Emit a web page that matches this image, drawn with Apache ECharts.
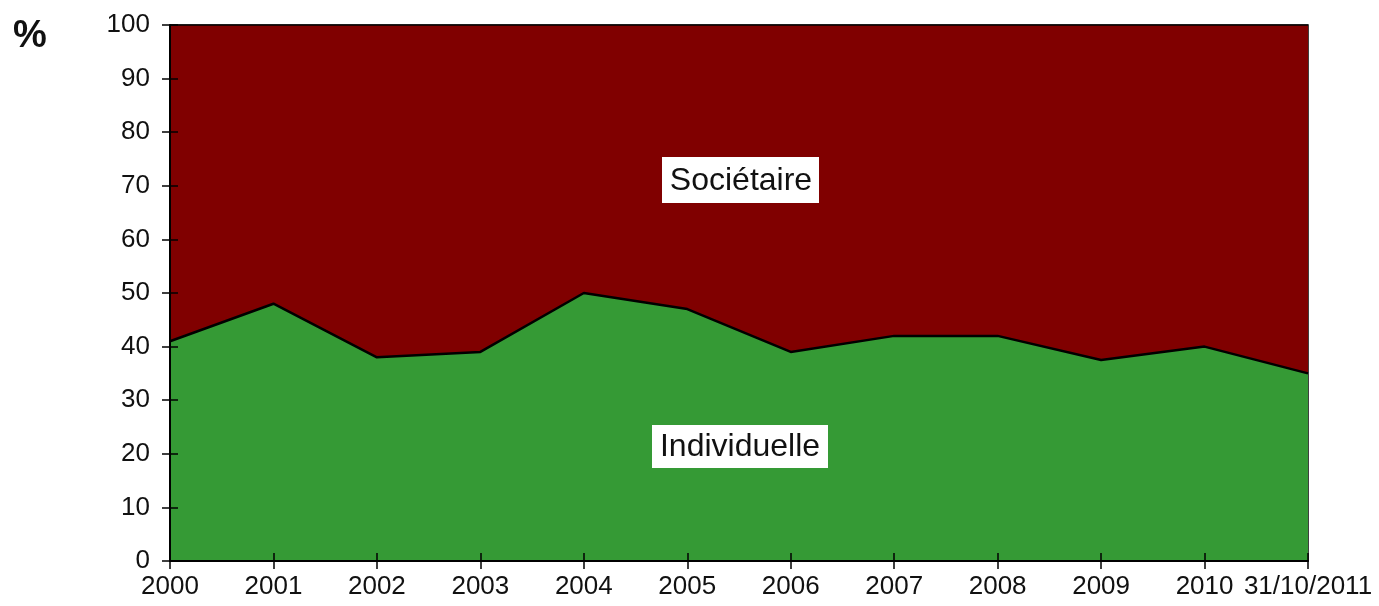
<!DOCTYPE html>
<html><head><meta charset="utf-8">
<script src="https://cdn.jsdelivr.net/npm/echarts@6/dist/echarts.min.js"></script>
<style>html,body{margin:0;padding:0;background:#fff}#c{width:1379px;height:606px}</style>
</head><body><div id="c"></div>
<script>
const categories = ['2000','2001','2002','2003','2004','2005','2006','2007','2008','2009','2010','31/10/2011'];
const individuelle = [41, 48, 38, 39, 50, 47, 39, 42, 42, 37.5, 40, 35];
const societaire = individuelle.map(v => 100 - v);
const yTicks = [0,10,20,30,40,50,60,70,80,90,100];

const chart = echarts.init(document.getElementById('c'));
const font = '"Liberation Sans", Arial, sans-serif';
const tickStyle = {color: '#000', width: 1.5};
chart.setOption({
  animation: false,
  grid: {left: 170, right: 71, top: 25, bottom: 45, show: true, borderColor: '#000', borderWidth: 1.5, backgroundColor: 'transparent'},
  xAxis: [{
    type: 'category', data: categories, boundaryGap: false, z: 5,
    axisLine: {show: true, lineStyle: {color: '#000', width: 2}},
    axisTick: {show: true, length: 8, lineStyle: tickStyle},
    axisLabel: {fontSize: 26, color: '#111', fontFamily: font, margin: 13, interval: 0},
    splitLine: {show: false}
  }, {
    type: 'category', data: categories, boundaryGap: false, position: 'bottom', z: 5,
    axisLine: {show: false},
    axisTick: {show: true, inside: true, length: 8, lineStyle: tickStyle},
    axisLabel: {show: false}, splitLine: {show: false}
  }],
  yAxis: [{
    type: 'value', min: 0, max: 100, interval: 10, z: 5,
    axisLine: {show: true, lineStyle: {color: '#000', width: 2}},
    axisTick: {show: true, length: 8, lineStyle: tickStyle},
    axisLabel: {fontSize: 26, color: '#111', fontFamily: font, margin: 20,
      formatter: v => yTicks.includes(v) ? String(v) : ''},
    splitLine: {show: false}
  }, {
    type: 'value', min: 0, max: 100, interval: 10, position: 'left', z: 5,
    axisLine: {show: false},
    axisTick: {show: true, inside: true, length: 8, lineStyle: tickStyle},
    axisLabel: {show: false}, splitLine: {show: false}
  }],
  series: [
    {name: 'Individuelle', type: 'line', stack: 'a', data: individuelle, symbol: 'none',
     lineStyle: {color: '#000', width: 2.5}, areaStyle: {color: '#359a35', opacity: 1}, z: 3},
    {name: 'Sociétaire', type: 'line', stack: 'a', data: societaire, symbol: 'none',
     lineStyle: {color: '#000', width: 1.5}, areaStyle: {color: '#800000', opacity: 1}, z: 2}
  ],
  graphic: [
    {type: 'text', left: 13, top: 18, style: {text: '%', fontSize: 38, fontWeight: 'bold', fontFamily: font, fill: '#111'}},
    {type: 'rect', shape: {x: 662, y: 157, width: 157, height: 46}, style: {fill: '#fff'}, z: 10},
    {type: 'text', x: 741, y: 181, style: {text: 'Sociétaire', fontSize: 32, fontFamily: font, fill: '#111', align: 'center', verticalAlign: 'middle'}, z: 11},
    {type: 'rect', shape: {x: 652, y: 425, width: 176, height: 43}, style: {fill: '#fff'}, z: 10},
    {type: 'text', x: 740, y: 447, style: {text: 'Individuelle', fontSize: 32, fontFamily: font, fill: '#111', align: 'center', verticalAlign: 'middle'}, z: 11}
  ]
});
</script></body></html>
